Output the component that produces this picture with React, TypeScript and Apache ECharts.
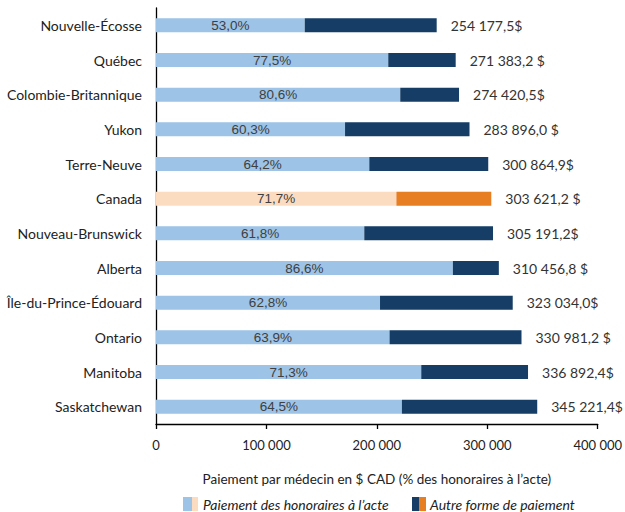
import React, { useEffect, useRef } from "react";
import * as echarts from "echarts";

const categories = [
  "Nouvelle-Écosse",
  "Québec",
  "Colombie-Britannique",
  "Yukon",
  "Terre-Neuve",
  "Canada",
  "Nouveau-Brunswick",
  "Alberta",
  "Île-du-Prince-Édouard",
  "Ontario",
  "Manitoba",
  "Saskatchewan",
];
const feePercent = [53.0, 77.5, 80.6, 60.3, 64.2, 71.7, 61.8, 86.6, 62.8, 63.9, 71.3, 64.5];
const totals = [
  254177.5, 271383.2, 274420.5, 283896.0, 300864.9, 303621.2, 305191.2, 310456.8, 323034.0,
  330981.2, 336892.4, 345221.4,
];
const totalLabels = [
  "254 177,5$",
  "271 383,2 $",
  "274 420,5$",
  "283 896,0 $",
  "300 864,9$",
  "303 621,2 $",
  "305 191,2$",
  "310 456,8 $",
  "323 034,0$",
  "330 981,2 $",
  "336 892,4$",
  "345 221,4$",
];
const xTicks = [0, 100000, 200000, 300000, 400000];
const highlight = "Canada";

const LIGHT = "#9DC3E6";
const DARK = "#153D66";
const PEACH = "#FCDCC1";
const ORANGE = "#E87E22";
const FONT = "Lato, 'Open Sans', sans-serif";

export default function App() {
  const ref = useRef<HTMLDivElement>(null);
  useEffect(() => {
    if (!ref.current) return;
    const chart = echarts.init(ref.current, null, { renderer: "svg" });
    const feeData = categories.map((c, i) => ({
      value: (totals[i] * feePercent[i]) / 100,
      itemStyle: { color: c === highlight ? PEACH : LIGHT },
    }));
    const otherData = categories.map((c, i) => ({
      value: totals[i] - (totals[i] * feePercent[i]) / 100,
      itemStyle: { color: c === highlight ? ORANGE : DARK },
    }));
    chart.setOption({
      animation: false,
      grid: { left: 156, right: 26, top: 8, bottom: 88 },
      xAxis: {
        type: "value",
        min: xTicks[0],
        max: xTicks[xTicks.length - 1],
        interval: 100000,
        splitLine: { show: false },
        axisLine: { show: true, lineStyle: { color: "#000", width: 1.3 } },
        axisTick: { show: true, length: 5, lineStyle: { color: "#000", width: 1.3 } },
        axisLabel: {
          color: "#222",
          fontFamily: FONT,
          fontSize: 13,
          margin: 14,
          formatter: (v: number) => (v === 0 ? "0" : v.toLocaleString("fr-FR").replace(/\s/g, " ")),
        },
        name: "Paiement par médecin en $ CAD (% des honoraires à l’acte)",
        nameLocation: "middle",
        nameGap: 48,
        nameTextStyle: { color: "#222", fontFamily: FONT, fontSize: 13.5 },
      },
      yAxis: {
        type: "category",
        data: categories,
        inverse: true,
        axisLine: { show: true, lineStyle: { color: "#000", width: 1.3 } },
        axisTick: { show: false },
        axisLabel: { color: "#222", fontFamily: FONT, fontSize: 14, margin: 14 },
      },
      series: [
        {
          type: "bar",
          stack: "t",
          barWidth: 14,
          data: feeData,
          label: {
            show: true,
            position: "inside",
            color: "#404040",
            fontFamily: "'Liberation Sans', Arial, sans-serif",
            fontSize: 13.5,
            formatter: (p: any) => feePercent[p.dataIndex].toFixed(1).replace(".", ",") + "%",
          },
        },
        {
          type: "bar",
          stack: "t",
          barWidth: 14,
          data: otherData,
          label: {
            show: true,
            position: "right",
            distance: 14,
            color: "#333",
            fontFamily: FONT,
            fontSize: 14,
            formatter: (p: any) => totalLabels[p.dataIndex],
          },
        },
      ],
      graphic: [
        { type: "rect", shape: { x: 183, y: 497, width: 9, height: 14 }, style: { fill: LIGHT } },
        { type: "rect", shape: { x: 192, y: 497, width: 6, height: 14 }, style: { fill: PEACH } },
        {
          type: "text",
          x: 203,
          y: 504,
          style: {
            text: "Paiement des honoraires à l’acte",
            fill: "#222",
            font: `italic 14px ${FONT}`,
            verticalAlign: "middle",
          },
        },
        { type: "rect", shape: { x: 412, y: 497, width: 7, height: 14 }, style: { fill: DARK } },
        { type: "rect", shape: { x: 419, y: 497, width: 7, height: 14 }, style: { fill: ORANGE } },
        {
          type: "text",
          x: 430,
          y: 504,
          style: {
            text: "Autre forme de paiement",
            fill: "#222",
            font: `italic 14px ${FONT}`,
            verticalAlign: "middle",
          },
        },
      ],
    });
    return () => chart.dispose();
  }, []);
  return <div ref={ref} style={{ width: 625, height: 512, position: "absolute", left: 0, top: 0 }} />;
}
